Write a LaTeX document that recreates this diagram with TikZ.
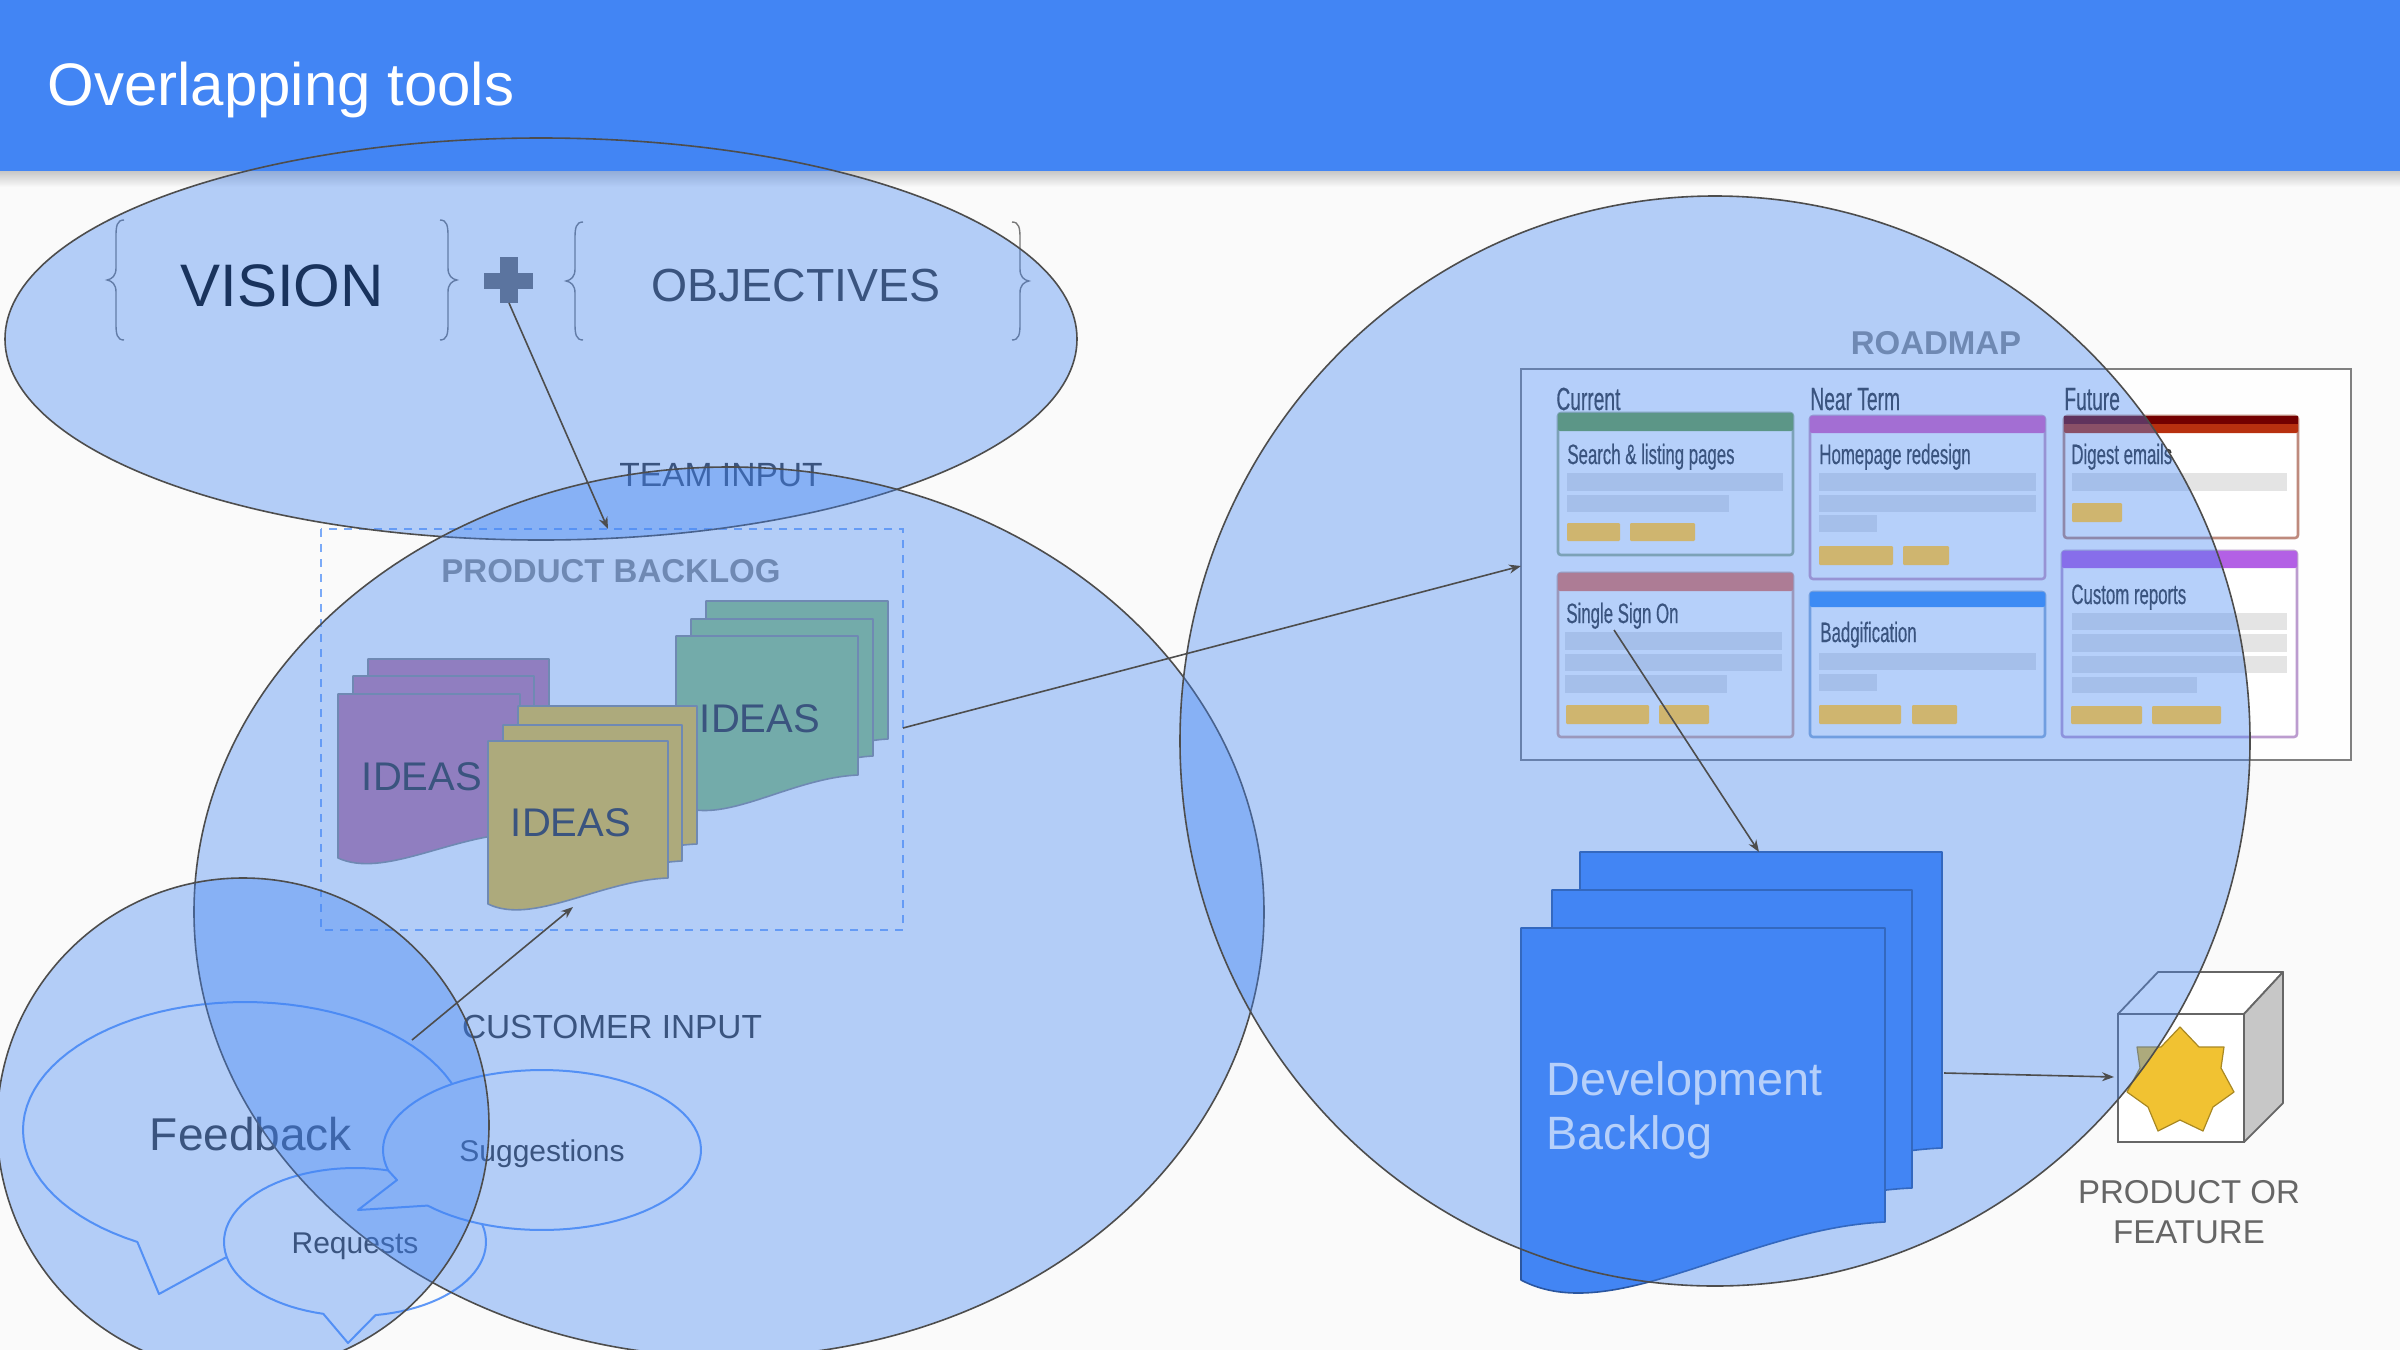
\documentclass[tikz,border=0pt]{standalone}
\usepackage{fontspec}
\setmainfont{Liberation Sans}
\newfontfamily\condfont[FakeStretch=0.6,FakeBold=0.4]{Liberation Sans}
\definecolor{gblue}{HTML}{4285F4}
\definecolor{pagebg}{HTML}{FAFAFA}
\definecolor{ink}{HTML}{363636}
\definecolor{softink}{HTML}{8C8C8C}
\definecolor{lineink}{HTML}{4D4D4D}
\definecolor{docpurple}{HTML}{C27BA0}
\definecolor{docyellow}{HTML}{F1C232}
\definecolor{docgreen}{HTML}{93C47D}
\definecolor{hdrgreen}{HTML}{6DA143}
\definecolor{hdrrose}{HTML}{F0785A}
\definecolor{hdrpink}{HTML}{E060C0}
\definecolor{hdrblue}{HTML}{3A90F5}
\definecolor{hdrred}{HTML}{B8300F}
\definecolor{hdrviolet}{HTML}{B360E5}
\definecolor{tagcol}{HTML}{CFB56F}
\definecolor{barcol}{HTML}{E4E4E4}
\newcommand\fsz[1]{\fontsize{#1}{#1}\selectfont}
\newcommand\fszl[2]{\fontsize{#1}{#2}\selectfont}
% x, y, w, right height, left height, fill, stroke
\newcommand\docsheet[7]{%
  \draw[fill=#6,draw=#7,line width=.8pt,line join=round]
    (#1,#2) -- ({#1+#3},#2) -- ({#1+#3},{#2+#4})
    .. controls ({#1+.62*#3},{#2+#4+.1*(#5-#4)}) and ({#1+.25*#3},{#2+#5+.83*(#5-#4)}) ..
    (#1,{#2+#5}) -- cycle;}
% x, top, bottom, direction of the tip
\newcommand\bracemark[4]{%
  \draw[line width=.7pt,draw=softink!85!black]
    ({#1-#4*8},#2) .. controls ({#1-#4*1},#2) and (#1,{#2+6}) .. (#1,{#2+16})
    -- (#1,{(#2+#3)/2-12}) .. controls (#1,{(#2+#3)/2-4}) and ({#1+#4*4},{(#2+#3)/2-1}) .. ({#1+#4*9},{(#2+#3)/2})
    .. controls ({#1+#4*4},{(#2+#3)/2+1}) and (#1,{(#2+#3)/2+4}) .. (#1,{(#2+#3)/2+12})
    -- (#1,{#3-16}) .. controls (#1,{#3-6}) and ({#1-#4*1},#3) .. ({#1-#4*8},#3);}
% x1, y1, x2, y2, header bottom, colour
\newcommand\cardbox[6]{%
  \draw[fill=white,draw=#6!45!white!85!black,line width=1.3pt,rounded corners=1.5pt] (#1,#2) rectangle (#3,#4);
  \fill[#6,rounded corners=1pt] (#1,#2) rectangle (#3,#5);}
\newcommand\cardbar[4]{\fill[barcol] (#1,#2) rectangle (#3,#4);}
\newcommand\cardtag[4]{\fill[tagcol,rounded corners=.6pt] (#1,#2) rectangle (#3,#4);}
\usetikzlibrary{arrows.meta}
\tikzset{
  x=.5pt,y=-.5pt,
  txt/.style={inner sep=0pt,outer sep=0pt,text=ink},
  overlaydisc/.style={fill=gblue,fill opacity=.385,draw=lineink,draw opacity=1,line width=.8pt},
  bubble/.style={fill=pagebg,draw=gblue!85!white,line width=1pt,line join=round},
  flow/.style={draw=lineink,line width=.8pt,-{Stealth[length=6pt,width=4.5pt]}},
  cardtitle/.style={inner sep=0pt,anchor=base west,text=ink,font=\condfont\fsz{14}},
  collabel/.style={inner sep=0pt,anchor=base west,text=ink,font=\condfont\fsz{16}},
}
\begin{document}
\begin{tikzpicture}
\clip (0,0) rectangle (2400,1350);
\fill[pagebg] (0,0) rectangle (2400,1350);
\shade[top color=black!22,bottom color=pagebg] (0,171) rectangle (2400,187);
\fill[gblue] (0,0) rectangle (2400,171);
\node[inner sep=0pt,anchor=base west,text=white,font=\fsz{30}] (title) at (47,105) {Overlapping tools};

% vision + objectives
\bracemark{116}{220}{340}{-1}
\bracemark{448}{220}{340}{1}
\bracemark{575}{222}{340}{-1}
\bracemark{1020}{222}{340}{1}
\node[txt,text=black,font=\fsz{30}] (vision) at (282,286) {VISION};
\node[txt,font=\fsz{23.2}] (objectives) at (796,286) {OBJECTIVES};
\fill[black!58] (500,257) rectangle (518,303);
\fill[black!58] (484,273) rectangle (533,289);
\coordinate (plusfoot) at (509,303);

\node[txt,font=\fsz{16.8}] (teaminput) at (721,475) {TEAM INPUT};

% product backlog
\draw[draw=gblue!70!white,line width=1.4pt,dash pattern=on 4pt off 3.5pt] (321,529) rectangle (903,930);
\coordinate (backlogtop) at (608,529);
\coordinate (backlogright) at (903,728);
\node[txt,text=softink,font=\bfseries\fsz{16.5}] (backloglabel) at (611,571) {PRODUCT BACKLOG};

\docsheet{368}{659}{181}{130}{165}{docpurple}{black!45}
\docsheet{353}{676}{181}{130}{165}{docpurple}{black!45}
\docsheet{338}{694}{182}{139}{164}{docpurple}{black!45}
\docsheet{706}{601}{182}{138}{170}{docgreen}{black!45}
\docsheet{691}{619}{182}{137}{170}{docgreen}{black!45}
\docsheet{676}{636}{182}{139}{168}{docgreen}{black!45}
\docsheet{518}{706}{179}{138}{163}{docyellow}{black!45}
\docsheet{503}{725}{179}{136}{163}{docyellow}{black!45}
\docsheet{488}{741}{180}{137}{163}{docyellow}{black!45}
\node[txt,font=\fsz{20}] (ideaspurple) at (422,777) {IDEAS};
\node[txt,font=\fsz{20}] (ideasgreen) at (760,719) {IDEAS};
\node[txt,font=\fsz{20}] (ideasyellow) at (571,823) {IDEAS};
\coordinate (yellowfoot) at (573,907);

\node[txt,font=\fsz{16.7}] (custinput) at (612,1027) {CUSTOMER INPUT};
\coordinate (custorigin) at (412,1040);

% speech bubbles
\draw[bubble] plot[domain=119:455,samples=90] ({245+222*cos(\x)},{1130+128*sin(\x)}) -- (159,1294) -- cycle;
\draw[bubble] plot[domain=104:441,samples=90] ({355+131*cos(\x)},{1242+74*sin(\x)}) -- (348,1343) -- cycle;
\draw[bubble] plot[domain=165:496,samples=90] ({542+159*cos(\x)},{1150+80*sin(\x)}) -- (358,1210) -- (397,1180) -- cycle;
\node[txt,font=\fsz{23}] (feedback) at (251,1134) {Feedback};
\node[txt,font=\fsz{15}] (requests) at (355,1246) {Requests};
\node[txt,font=\fsz{15}] (suggestions) at (542,1154) {Suggestions};

% roadmap
\node[txt,text=softink,font=\bfseries\fsz{16.5}] (roadmaplabel) at (1936,343) {ROADMAP};
\draw[fill=white!70!pagebg,draw=black!50,line width=1pt] (1521,369) rectangle (2351,760);
\coordinate (roadmapleft) at (1521,566);
\node[collabel] (colcurrent) at (1556,410) {Current};
\node[collabel] (colnear) at (1810,410) {Near Term};
\node[collabel] (colfuture) at (2064,410) {Future};

\cardbox{1558}{413}{1793}{555}{431}{hdrgreen}
\node[cardtitle] (cardsearch) at (1567,464) {Search \& listing pages};
\cardbar{1567}{473}{1783}{491}\cardbar{1567}{495}{1729}{512}

\cardbox{1558}{573}{1793}{737}{591}{hdrrose}
\node[cardtitle] (cardsso) at (1566,623) {Single Sign On};
\cardbar{1565}{632}{1782}{650}\cardbar{1565}{654}{1782}{671}\cardbar{1565}{675}{1727}{693}
\coordinate (ssofoot) at (1614,630);

\cardbox{1810}{416}{2045}{579}{433}{hdrpink}
\node[cardtitle] (cardhome) at (1819,464) {Homepage redesign};
\cardbar{1819}{473}{2036}{491}\cardbar{1819}{495}{2036}{512}\cardbar{1819}{515}{1877}{532}

\cardbox{1810}{592}{2045}{737}{607}{hdrblue}
\node[cardtitle] (cardbadge) at (1820,642) {Badgification};
\cardbar{1819}{653}{2036}{670}\cardbar{1819}{674}{1877}{691}

\cardbox{2064}{416}{2298}{538}{433}{hdrred}
\fill[red!45!black] (2064,416) rectangle (2298,424);
\node[cardtitle] (carddigest) at (2071,464) {Digest emails};
\cardbar{2072}{473}{2287}{491}

\cardbox{2062}{551}{2297}{737}{568}{hdrviolet}
\node[cardtitle] (cardcustom) at (2071,604) {Custom reports};
\cardbar{2072}{613}{2287}{630}\cardbar{2072}{634}{2287}{652}\cardbar{2072}{656}{2287}{673}\cardbar{2072}{677}{2197}{693}

% development backlog
\docsheet{1580}{852}{362}{296}{350}{gblue}{black!35!gblue}
\docsheet{1552}{890}{360}{298}{352}{gblue}{black!35!gblue}
\docsheet{1521}{928}{364}{294}{352}{gblue}{black!35!gblue}
\node[inner sep=0pt,anchor=north west,align=left,text=white,font=\fszl{23.4}{27}] (devlabel) at (1546,1061) {Development\\Backlog};
\coordinate (devtop) at (1759,852);
\coordinate (devright) at (1944,1073);

% product box
\draw[fill=white,draw=black!60,line width=.9pt,line join=round] (2118,1014) -- (2158,972) -- (2283,972) -- (2244,1014) -- cycle;
\draw[fill=black!22,draw=black!60,line width=.9pt,line join=round] (2244,1014) -- (2283,972) -- (2283,1103) -- (2244,1142) -- cycle;
\draw[fill=white,draw=black!60,line width=.9pt] (2118,1014) rectangle (2244,1142);
\coordinate (boxleft) at (2114,1077);
\draw[fill=docyellow,draw=docyellow!70!black,line width=.6pt,line join=round]
  (2180,1027) -- (2199,1047) -- (2224,1047) -- (2221,1068) -- (2234,1092) -- (2213,1107) -- (2203,1131)
  -- (2180,1120) -- (2158,1131) -- (2148,1107) -- (2127,1092) -- (2140,1068) -- (2137,1047) -- (2161,1047) -- cycle;
\node[inner sep=0pt,align=center,text=black!60,font=\fszl{16.5}{20}] (productlabel) at (2189,1212) {PRODUCT OR\\FEATURE};

% translucent discs
\draw[overlaydisc] (541,339) ellipse [x radius=536,y radius=201];
\draw[overlaydisc] (729,912) ellipse [x radius=535,y radius=445];
\draw[overlaydisc] (1715,741) ellipse [x radius=535,y radius=545];
\draw[overlaydisc] (243,1125) ellipse [x radius=246,y radius=247];

% card tags (as they appear through the disc)
\cardtag{1567}{523}{1620}{541}\cardtag{1630}{523}{1695}{541}
\cardtag{1566}{705}{1649}{724}\cardtag{1659}{705}{1709}{724}
\cardtag{1819}{546}{1893}{565}\cardtag{1903}{546}{1949}{565}
\cardtag{1819}{705}{1901}{724}\cardtag{1912}{705}{1957}{724}
\cardtag{2072}{503}{2122}{522}
\cardtag{2071}{706}{2142}{724}\cardtag{2152}{706}{2221}{724}

% connectors
\draw[flow] (plusfoot) -- (backlogtop);
\draw[flow] (custorigin) -- (yellowfoot);
\draw[flow] (backlogright) -- (roadmapleft);
\draw[flow] (ssofoot) -- (devtop);
\draw[flow] (devright) -- (boxleft);
\end{tikzpicture}
\end{document}
